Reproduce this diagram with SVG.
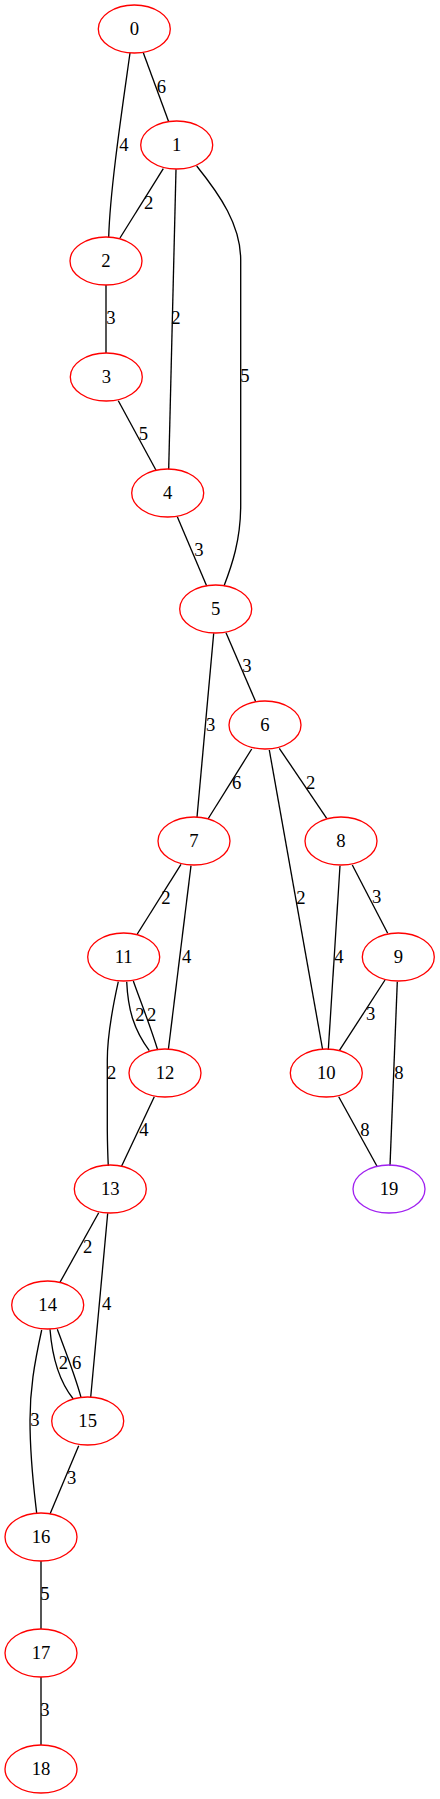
<svg xmlns="http://www.w3.org/2000/svg" width="440" height="1799" viewBox="0 0 440 1799">
<style>
.n ellipse{fill:none;stroke:#ff0000;stroke-width:1.33}
.n.p ellipse{stroke:#a020f0}
text{font-family:"Liberation Serif","Times New Roman",serif;font-size:18.67px;fill:#000;text-anchor:middle}
#edges path{fill:none;stroke:#000;stroke-width:1.33}
</style>
<rect width="440" height="1799" fill="#fff"/>
<g id="edges">
<path d="M143.3,52.7 L168.7,121.7"/><text x="161.3" y="93">6</text>
<path d="M130,53 C122,110 110,190 108.7,237.3"/><text x="124" y="151">4</text>
<path d="M163.3,168.7 L120,238"/><text x="148.7" y="209">2</text>
<path d="M176,169.3 L168.7,469.3"/><text x="176" y="324">2</text>
<path d="M196.7,166 C220,195 240.7,225 240.7,260 L240.7,505 C240.7,540 232,565 224,586"/><text x="245" y="382">5</text>
<path d="M106,285 L106,353"/><text x="111" y="324">3</text>
<path d="M118.3,400.7 L156.3,470.7"/><text x="143.3" y="440">5</text>
<path d="M177.3,516.7 L206.7,586"/><text x="199" y="556">3</text>
<path d="M226,632.7 L255.7,701.7"/><text x="247" y="672">3</text>
<path d="M213.7,633.3 L197,817.3"/><text x="210.7" y="731">3</text>
<path d="M251.7,749 L208,819"/><text x="236.7" y="789">6</text>
<path d="M269.3,750 L322.7,1050"/><text x="301" y="904">2</text>
<path d="M279.3,748.3 L326.7,818.3"/><text x="310.7" y="789">2</text>
<path d="M181,864.3 L137.3,934"/><text x="166" y="904">2</text>
<path d="M191,865.7 L168.3,1050"/><text x="186.7" y="963">4</text>
<path d="M340,865.7 L328.3,1050"/><text x="339" y="963">4</text>
<path d="M352.3,865 L387.7,933.3"/><text x="376.7" y="903">3</text>
<path d="M385,980 L339.3,1050.7"/><text x="370.7" y="1020">3</text>
<path d="M397.3,981.7 L390,1165.7"/><text x="399" y="1079">8</text>
<path d="M338.7,1096.7 L377.3,1166.7"/><text x="365" y="1136">8</text>
<path d="M126.7,981.7 C128,1010 134,1030 149.3,1050.7"/><text x="140" y="1021">2</text>
<path d="M133.3,981 C140,1000 150,1025 157.7,1050"/><text x="151.7" y="1021">2</text>
<path d="M118.3,981.7 C112,1010 107.3,1035 107.3,1060 L107.3,1130 Q107.5,1150 108.3,1166"/><text x="111.7" y="1079">2</text>
<path d="M154.3,1096.7 L121.3,1166.7"/><text x="144" y="1136">4</text>
<path d="M98.7,1212.7 L60,1282.3"/><text x="87.7" y="1253">2</text>
<path d="M107.7,1213.3 L90.7,1397.3"/><text x="106.7" y="1310">4</text>
<path d="M50,1329.3 C52,1355 58,1380 73.3,1399"/><text x="63.3" y="1369">2</text>
<path d="M57.3,1329.3 C65,1350 75,1375 81,1397.3"/><text x="76.7" y="1369">6</text>
<path d="M41.7,1330 C34,1365 30,1390 30,1420 C30,1460 34,1490 36.7,1513.3"/><text x="35" y="1426">3</text>
<path d="M78.7,1445.7 L50,1514"/><text x="71.7" y="1484">3</text>
<path d="M41,1561 L41,1629"/><text x="45" y="1600">5</text>
<path d="M41,1677 L41,1745"/><text x="45" y="1716">3</text>
</g>
<g id="n0" class="n"><ellipse cx="134.3" cy="29" rx="36" ry="24"/><text x="134.3" y="35">0</text></g>
<g id="n1" class="n"><ellipse cx="176.7" cy="145" rx="36" ry="24"/><text x="176.7" y="151">1</text></g>
<g id="n2" class="n"><ellipse cx="106" cy="261" rx="36" ry="24"/><text x="106" y="267">2</text></g>
<g id="n3" class="n"><ellipse cx="106.3" cy="377" rx="36" ry="24"/><text x="106.3" y="383">3</text></g>
<g id="n4" class="n"><ellipse cx="167.7" cy="493" rx="36" ry="24"/><text x="167.7" y="499">4</text></g>
<g id="n5" class="n"><ellipse cx="215.7" cy="609" rx="36" ry="24"/><text x="215.7" y="615">5</text></g>
<g id="n6" class="n"><ellipse cx="265" cy="725" rx="36" ry="24"/><text x="265" y="731">6</text></g>
<g id="n7" class="n"><ellipse cx="194" cy="841" rx="36" ry="24"/><text x="194" y="847">7</text></g>
<g id="n8" class="n"><ellipse cx="341" cy="841" rx="36" ry="24"/><text x="341" y="847">8</text></g>
<g id="n9" class="n"><ellipse cx="398.3" cy="957" rx="36" ry="24"/><text x="398.3" y="963">9</text></g>
<g id="n10" class="n"><ellipse cx="326.3" cy="1073" rx="36" ry="24"/><text x="326.3" y="1079">10</text></g>
<g id="n11" class="n"><ellipse cx="123.7" cy="957" rx="36" ry="24"/><text x="123.7" y="963">11</text></g>
<g id="n12" class="n"><ellipse cx="165" cy="1073" rx="36" ry="24"/><text x="165" y="1079">12</text></g>
<g id="n13" class="n"><ellipse cx="110.3" cy="1189" rx="36" ry="24"/><text x="110.3" y="1195">13</text></g>
<g id="n14" class="n"><ellipse cx="47.7" cy="1305" rx="36" ry="24"/><text x="47.7" y="1311">14</text></g>
<g id="n15" class="n"><ellipse cx="87.7" cy="1421" rx="36" ry="24"/><text x="87.7" y="1427">15</text></g>
<g id="n16" class="n"><ellipse cx="41" cy="1537" rx="36" ry="24"/><text x="41" y="1543">16</text></g>
<g id="n17" class="n"><ellipse cx="41" cy="1653" rx="36" ry="24"/><text x="41" y="1659">17</text></g>
<g id="n18" class="n"><ellipse cx="41" cy="1769" rx="36" ry="24"/><text x="41" y="1775">18</text></g>
<g id="n19" class="n p"><ellipse cx="389" cy="1189" rx="36" ry="24"/><text x="389" y="1195">19</text></g>
</svg>
